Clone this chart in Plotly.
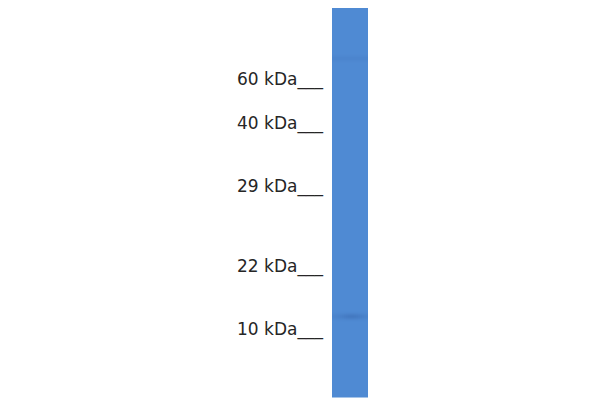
import numpy as np
import plotly.graph_objects as go

# marker ladder (kDa) and where the labels sit on the blot (px from top)
marker_kda = [60, 40, 29, 22, 10]
marker_pos = [79, 123, 186, 266, 329]

# bands seen in the lane: position and relative darkness
band_pos = [58, 316]
band_strength = [0.10, 0.32]
band_width = [2.0, 2.2]

lane_top, lane_bottom = 8, 397
lane_left, lane_right = 333, 367

# intensity profile down the lane
rows = np.arange(lane_top, lane_bottom + 1)
profile = np.zeros(len(rows))
for p, s, w in zip(band_pos, band_strength, band_width):
    profile += s * np.exp(-0.5 * ((rows - p) / w) ** 2)
cols = np.linspace(lane_left, lane_right, 18)
z = np.tile(profile[:, None], (1, len(cols)))
# lower band is stronger towards the middle of the lane
mid = np.exp(-0.5 * ((cols - 352) / 8) ** 2)
z[np.abs(rows - band_pos[1]) < 8] *= (0.3 + 0.7 * mid)

fig = go.Figure()
fig.add_trace(go.Heatmap(
    x=cols, y=rows, z=z,
    zmin=0, zmax=1,
    colorscale=[[0, '#4f8ad3'], [1, '#2c569c']],
    showscale=False, hoverinfo='skip'
))

for kda, pos in zip(marker_kda, marker_pos):
    fig.add_annotation(
        x=325, y=pos, xref='x', yref='y',
        text=f'{kda} kDa___', showarrow=False,
        xanchor='right', yanchor='middle',
        font=dict(family='DejaVu Sans', size=17, color='#262626')
    )

# page body adds an 8px offset, so ranges are shifted to keep pixel coords
fig.update_layout(
    width=600, height=400,
    margin=dict(l=0, r=0, t=0, b=0),
    paper_bgcolor='white', plot_bgcolor='white',
    xaxis=dict(range=[8, 608], visible=False),
    yaxis=dict(range=[408, 8], visible=False),
)
fig.write_html("out.html")
